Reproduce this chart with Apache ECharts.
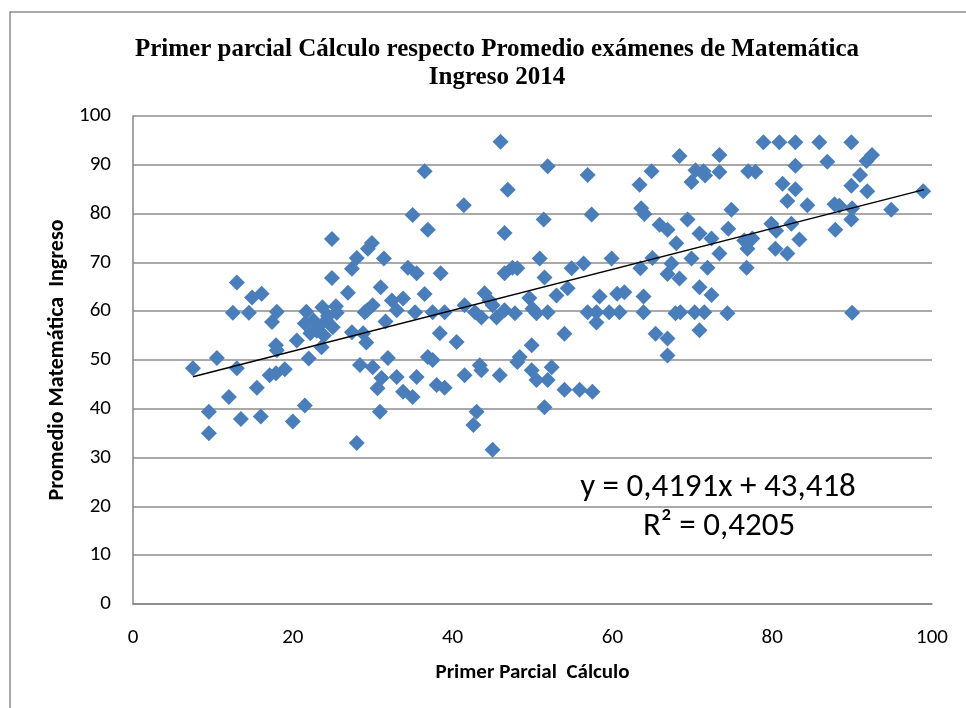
<!DOCTYPE html>
<html>
<head>
<meta charset="utf-8">
<script src="https://cdn.jsdelivr.net/npm/echarts@6/dist/echarts.min.js"></script>
<style>
  html, body { margin: 0; padding: 0; background: #fff; }
  #myChart { width: 966px; height: 708px; }
</style>
</head>
<body>
<div id="myChart"></div>
<script>
// Primer parcial Cálculo (x) vs Promedio Matemática Ingreso (y)
var parcialCalculo = [
  7.5, 9.5, 9.5, 10.5, 12, 12.5, 13, 13, 13.5, 14.5, 14.9, 15.5, 16.1, 16, 17.1, 17.9, 17.9, 18, 18, 17.4,
  19, 20, 20.5, 21.5, 21.7, 21.5, 22, 22.2, 23.7, 24.2, 23, 25, 23.6, 25.5, 24.9, 24.9, 26.9, 27.4, 27.4, 28,
  28, 22.6, 23.2, 24.4, 23.9, 25.4, 28.4, 29.4, 29.9, 29.2, 29.3, 28.8, 29, 30, 31, 30, 31.9, 31.1, 30.6, 30.9,
  31.4, 32.4, 33, 33.8, 31.6, 33, 33.8, 35, 34.4, 35.5, 35, 35.3, 36.5, 36.5, 36.9, 36.9, 37.5, 37.5, 35.5, 38,
  38.4, 38.5, 39, 39, 40.5, 41.5, 41.4, 41.5, 42.8, 42.6, 43, 43.4, 43.6, 43.6, 44, 45, 45, 45.5, 45.9, 46,
  46.5, 46.5, 46.5, 46.9, 47.5, 47.8, 48.1, 48.1, 48.4, 49.6, 49.9, 49.9, 50, 50.5, 50.9, 51.4, 51.5, 51.5, 51.9, 51.9,
  51.9, 52.4, 53, 54, 54, 54.4, 54.9, 55.9, 56.4, 56.9, 56.9, 57.4, 57.5, 58, 58, 58.4, 59.6, 59.9, 60.6, 60.9,
  61.5, 63.4, 63.5, 63.6, 63.9, 63.9, 64, 64.9, 65, 65.4, 65.9, 66.9, 66.9, 66.9, 66.9, 67.4, 67.9, 68, 68.4, 68.4,
  68.5, 69.4, 69.9, 69.9, 70.3, 70.4, 70.9, 70.9, 70.9, 71.4, 71.6, 71.5, 71.9, 72.4, 72.4, 73.4, 73.4, 73.4, 74.4, 74.5,
  74.9, 76.5, 76.8, 76.9, 77, 77.5, 77.9, 78.9, 79.9, 80.5, 80.4, 80.9, 81.3, 81.9, 81.9, 82.4, 82.9, 82.9, 82.9, 83.4,
  84.4, 85.9, 86.9, 87.8, 87.9, 88.4, 89.9, 89.9, 89.9, 90, 90, 91, 91.8, 91.9, 92.5, 94.9, 98.9, 50.5, 44.6
];
var promedioIngreso = [
  48.3, 39.4, 35, 50.4, 42.4, 59.7, 65.9, 48.3, 37.9, 59.7, 62.8, 44.3, 63.6, 38.4, 46.9, 47.3, 53, 52, 59.9, 57.8,
  48.1, 37.4, 54, 40.7, 59.9, 57.5, 50.3, 55.5, 60.8, 58.1, 56, 56.7, 52.6, 59.7, 74.8, 66.8, 63.8, 55.7, 68.7, 70.9,
  33, 58.1, 56.9, 59, 55, 61, 49, 72.8, 74, 53.6, 60.2, 55.5, 59.8, 61.2, 64.9, 48.5, 50.4, 46.3, 44.2, 39.4,
  70.8, 62.2, 60.2, 62.6, 57.9, 46.5, 43.5, 42.4, 68.9, 67.8, 79.7, 59.8, 63.5, 88.7, 76.7, 50.6, 50, 59.8, 46.5, 44.9,
  55.5, 67.8, 44.3, 59.8, 53.7, 61.2, 81.7, 46.9, 59.8, 36.7, 39.4, 48.9, 47.9, 58.7, 63.7, 61.2, 31.6, 58.7, 46.9, 94.7,
  60.2, 67.8, 76, 84.9, 68.9, 59.6, 68.8, 49.6, 50.6, 62.7, 53, 47.9, 60.5, 45.9, 70.8, 78.8, 66.9, 40.3, 59.8, 45.9,
  89.7, 48.5, 63.2, 55.4, 43.9, 64.7, 68.8, 43.9, 69.8, 87.9, 59.8, 79.8, 43.5, 59.8, 57.7, 63, 59.8, 70.8, 63.6, 59.8,
  63.9, 85.9, 68.8, 81.1, 63, 59.8, 79.9, 88.7, 70.9, 55.4, 77.7, 76.7, 67.6, 54.4, 50.9, 69.8, 59.6, 73.9, 91.8, 66.7,
  59.8, 78.8, 86.5, 70.8, 59.8, 88.9, 75.9, 64.9, 56.1, 88.7, 87.8, 59.8, 68.9, 74.9, 63.3, 92, 88.5, 71.8, 59.6, 76.9,
  80.8, 74.5, 68.9, 72.8, 88.7, 74.9, 88.6, 94.6, 77.9, 76.5, 72.8, 94.6, 86.1, 82.6, 71.8, 77.9, 94.6, 89.8, 85, 74.7,
  81.7, 94.6, 90.6, 81.9, 76.7, 81.6, 94.6, 85.7, 78.8, 81.1, 59.7, 87.9, 90.8, 84.6, 92, 80.8, 84.6, 59.6, 62.2
];

// linea de tendencia lineal (Excel)
var trendSlope = 0.4191;
var trendIntercept = 43.418;
var trendRange = [7.5, 99];

var xTicks = [0, 20, 40, 60, 80, 100];
var yTicks = [0, 10, 20, 30, 40, 50, 60, 70, 80, 90, 100];

var points = parcialCalculo.map(function (x, i) { return [x, promedioIngreso[i]]; });
var trend = trendRange.map(function (x) { return [x, trendSlope * x + trendIntercept]; });

var sansFont = 'Carlito, Lato, sans-serif';

var myChart = echarts.init(document.getElementById('myChart'));
var option = {
  animation: false,
  backgroundColor: '#ffffff',
  title: {
    text: 'Primer parcial Cálculo respecto Promedio exámenes de Matemática\nIngreso 2014',
    left: 492,
    top: 31,
    textAlign: 'center',
    textStyle: {
      fontFamily: '"Liberation Serif", "Times New Roman", serif',
      fontWeight: 'bold',
      fontSize: 25,
      lineHeight: 28,
      color: '#000'
    }
  },
  grid: {
    left: 133,
    top: 116,
    width: 799,
    height: 488
  },
  xAxis: {
    type: 'value',
    min: xTicks[0],
    max: xTicks[xTicks.length - 1],
    interval: 20,
    name: 'Primer Parcial  Cálculo',
    nameLocation: 'middle',
    nameGap: 58,
    nameTextStyle: { fontFamily: sansFont, fontWeight: 'bold', fontSize: 21, color: '#000' },
    axisLine: { show: true, lineStyle: { color: '#868686', width: 1.5 } },
    axisTick: { show: false },
    axisLabel: { fontFamily: sansFont, fontSize: 21, color: '#000', margin: 23 },
    splitLine: { show: false }
  },
  yAxis: {
    type: 'value',
    min: yTicks[0],
    max: yTicks[yTicks.length - 1],
    interval: 10,
    name: 'Promedio Matemática  Ingreso',
    nameLocation: 'middle',
    nameGap: 64,
    nameRotate: 90,
    nameTextStyle: { fontFamily: sansFont, fontWeight: 'bold', fontSize: 22, color: '#000' },
    axisLine: { show: true, lineStyle: { color: '#868686', width: 1.5 } },
    axisTick: { show: false },
    axisLabel: { fontFamily: sansFont, fontSize: 21, color: '#000', margin: 22 },
    splitLine: { show: true, lineStyle: { color: '#8c8c8c', width: 1.5 } }
  },
  graphic: [
    {
      type: 'rect',
      shape: { x: 10, y: 12, width: 980, height: 720 },
      style: { fill: 'none', stroke: '#8c8c8c', lineWidth: 1.5 },
      silent: true
    },
    {
      type: 'text',
      x: 718,
      y: 488,
      style: {
        text: 'y = 0,4191x + 43,418',
        fontFamily: sansFont,
        fontSize: 33,
        align: 'center',
        verticalAlign: 'middle',
        fill: '#000'
      }
    },
    {
      type: 'text',
      x: 719,
      y: 527,
      style: {
        text: 'R² = 0,4205',
        fontFamily: sansFont,
        fontSize: 33,
        align: 'center',
        verticalAlign: 'middle',
        fill: '#000'
      }
    }
  ],
  series: [
    {
      type: 'scatter',
      data: points,
      symbol: 'diamond',
      symbolSize: 16,
      itemStyle: { color: '#4A7EBB', opacity: 1 },
      z: 2
    },
    {
      type: 'line',
      data: trend,
      showSymbol: false,
      lineStyle: { color: '#000', width: 1.5 },
      z: 3
    }
  ]
};
myChart.setOption(option);
</script>
</body>
</html>
